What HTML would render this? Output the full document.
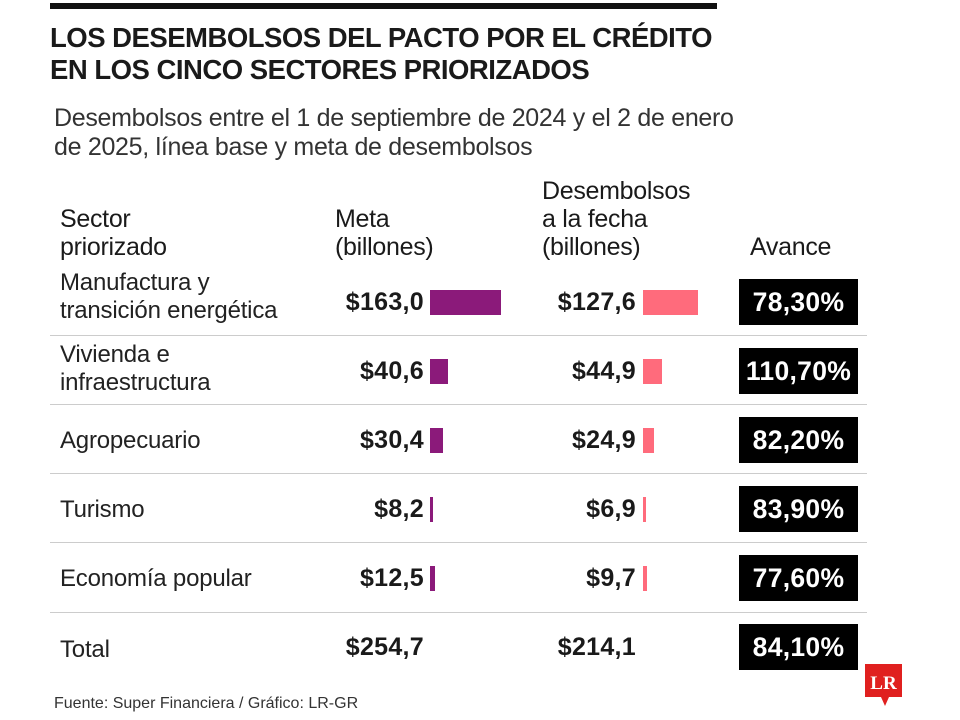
<!DOCTYPE html>
<html><head><meta charset="utf-8"><style>
body{margin:0;width:960px;height:720px;background:#fff;position:relative;font-family:"Liberation Sans",sans-serif;color:#1a1a1a;overflow:hidden}
.a{position:absolute;white-space:nowrap}
.t{font-weight:bold;font-size:27.5px;letter-spacing:-0.5px;left:50px}
.s{font-size:25px;left:54px;color:#333;letter-spacing:-0.3px}
.h{font-size:25px;line-height:28px;color:#1a1a1a;letter-spacing:-0.3px}
.lab{left:60px;font-size:24px;line-height:28px;color:#222;letter-spacing:-0.2px}
.v{font-weight:bold;font-size:25px;text-align:right;width:140px;letter-spacing:0.3px}
.bar{position:absolute}
.m{background:#8b1a7a}.d{background:#ff6b7c}
.box{position:absolute;left:739px;width:119px;height:46px;background:#000;color:#fff;font-weight:bold;font-size:26.5px;text-align:center;line-height:46px;letter-spacing:0.3px}
.ln{position:absolute;left:50px;width:817px;height:1px;background:#ccc}
</style></head><body>
<div class="a" style="left:50px;top:3px;width:667px;height:6px;background:#111"></div>
<div class="a t" style="top:22px">LOS DESEMBOLSOS DEL PACTO POR EL CRÉDITO</div>
<div class="a t" style="top:54px">EN LOS CINCO SECTORES PRIORIZADOS</div>
<div class="a s" style="top:104px">Desembolsos entre el 1 de septiembre de 2024 y el 2 de enero</div>
<div class="a s" style="top:133px">de 2025, línea base y meta de desembolsos</div>
<div class="a h" style="left:60px;top:205px">Sector<br>priorizado</div>
<div class="a h" style="left:335px;top:205px">Meta<br>(billones)</div>
<div class="a h" style="left:542px;top:177px">Desembolsos<br>a la fecha<br>(billones)</div>
<div class="a h" style="left:750px;top:233px">Avance</div>

<div class="a lab" style="top:269px">Manufactura y<br>transición energética</div>
<div class="a lab" style="top:341px">Vivienda e<br>infraestructura</div>
<div class="a lab" style="top:427px">Agropecuario</div>
<div class="a lab" style="top:496px">Turismo</div>
<div class="a lab" style="top:565px">Economía popular</div>
<div class="a lab" style="top:636px">Total</div>

<div class="ln" style="top:335px"></div><div class="ln" style="top:404px"></div><div class="ln" style="top:473px"></div><div class="ln" style="top:542px"></div><div class="ln" style="top:612px"></div>

<div class="a v" style="left:284px;top:288px">$163,0</div>
<div class="a v" style="left:284px;top:357px">$40,6</div>
<div class="a v" style="left:284px;top:426px">$30,4</div>
<div class="a v" style="left:284px;top:495px">$8,2</div>
<div class="a v" style="left:284px;top:564px">$12,5</div>
<div class="a v" style="left:284px;top:633px">$254,7</div>

<div class="bar m" style="left:430px;top:290px;width:71px;height:25px"></div>
<div class="bar m" style="left:430px;top:359px;width:18px;height:25px"></div>
<div class="bar m" style="left:430px;top:428px;width:13px;height:25px"></div>
<div class="bar m" style="left:430px;top:497px;width:3px;height:25px"></div>
<div class="bar m" style="left:430px;top:566px;width:5px;height:25px"></div>

<div class="a v" style="left:496px;top:288px">$127,6</div>
<div class="a v" style="left:496px;top:357px">$44,9</div>
<div class="a v" style="left:496px;top:426px">$24,9</div>
<div class="a v" style="left:496px;top:495px">$6,9</div>
<div class="a v" style="left:496px;top:564px">$9,7</div>
<div class="a v" style="left:496px;top:633px">$214,1</div>

<div class="bar d" style="left:643px;top:290px;width:55px;height:25px"></div>
<div class="bar d" style="left:643px;top:359px;width:19px;height:25px"></div>
<div class="bar d" style="left:643px;top:428px;width:11px;height:25px"></div>
<div class="bar d" style="left:643px;top:497px;width:3px;height:25px"></div>
<div class="bar d" style="left:643px;top:566px;width:4px;height:25px"></div>

<div class="box" style="top:279px">78,30%</div>
<div class="box" style="top:348px">110,70%</div>
<div class="box" style="top:417px">82,20%</div>
<div class="box" style="top:486px">83,90%</div>
<div class="box" style="top:555px">77,60%</div>
<div class="box" style="top:624px">84,10%</div>

<div class="a" style="left:54px;top:695px;font-size:16px;color:#333">Fuente: Super Financiera / Gráfico: LR-GR</div>
<svg class="a" style="left:865px;top:664px" width="40" height="48"><path d="M0 0H37V33H24L20 42L16 33H0Z" fill="#e0201f"/><text x="18.5" y="25" text-anchor="middle" font-family="Liberation Serif" font-weight="bold" font-size="19" fill="#fff">LR</text></svg>
</body></html>
